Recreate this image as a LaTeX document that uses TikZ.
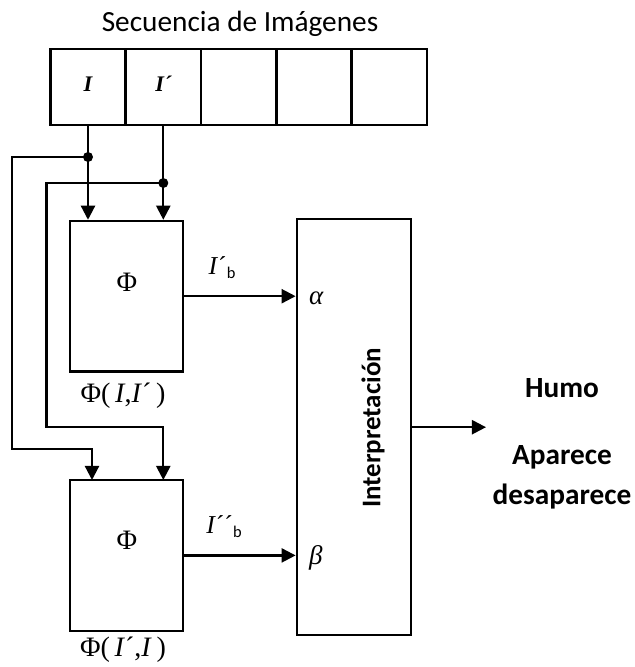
\documentclass[tikz,border=0pt]{standalone}
\usepackage{fontspec}
\setmainfont{Liberation Serif}
\newfontfamily\calibri{Carlito}
\usetikzlibrary{arrows.meta,positioning}
\tikzset{
  cell/.style={draw,line width=1.9pt,minimum width=2.25cm,minimum height=2.28cm,inner sep=0pt,text depth=0.5em,font=\fontsize{19}{19}\selectfont\bfseries\itshape},
  phibox/.style={draw,line width=1.9pt,minimum width=3.39cm,minimum height=4.52cm,inner sep=0pt},
  interp/.style={draw,line width=1.9pt,minimum width=3.43cm,minimum height=12.47cm,inner sep=0pt},
  wire/.style={line width=1.9pt},
  arr/.style={wire,-{Triangle[length=12pt,width=12pt]}},
  sym/.style={font=\fontsize{24}{24}\selectfont},
  res/.style={font=\calibri\bfseries\fontsize{25}{25}\selectfont},
}
\newcommand{\smallb}{\raisebox{-0.35ex}{\calibri\fontsize{14}{14}\selectfont b}}

\begin{document}
\begin{tikzpicture}[x=0.03cm,y=-0.03cm]
  \useasboundingbox (0,0) rectangle (634,667);
  \node[font=\calibri\fontsize{25}{25}\selectfont,anchor=base] (title) at (240,31) {Secuencia de Imágenes};
  % image sequence
  \node[cell] (c1) at (88,87) {I};
  \node[cell] (c2) at (163.3,87) {I´};
  \node[cell] (c3) at (238.6,87) {};
  \node[cell] (c4) at (313.9,87) {};
  \node[cell] (c5) at (389.2,87) {};
  % blocks
  \node[phibox] (b1) at (126.5,296.2) {};
  \node[phibox] (b2) at (126.5,555.4) {};
  \node[interp] (ip) at (353.9,427.2) {};
  \node[sym] (p1) at (127,282) {Φ};
  \node[sym] (p2) at (127,540) {Φ};
  \node[sym] (l1) at (123,396) {Φ(\,\textit{I},\textit{I}´\,)};
  \node[sym] (l2) at (123,650) {Φ(\,\textit{I}´,\textit{I}\,)};
  \node[font=\calibri\bfseries\fontsize{23}{23}\selectfont,rotate=90] (it) at (373,428) {Interpretación};
  \node[font=\fontsize{23}{23}\selectfont\itshape,anchor=west] (al) at (305,298) {α};
  \node[font=\fontsize{23}{23}\selectfont\itshape,anchor=west] (be) at (305,558) {β};
  \node[font=\fontsize{22}{22}\selectfont] (o1) at (222,268) {\textit{I}´\smallb};
  \node[font=\fontsize{22}{22}\selectfont] (o2) at (224,527) {\textit{I}´´\smallb};
  \node[res] (humo) at (562,388) {Humo};
  \node[res] (apa) at (562,457) {Aparece};
  \node[res] (des) at (562,497) {desaparece};
  % branch points
  \coordinate (d1) at (88,157);
  \coordinate (d2) at (163.3,183);
  \coordinate (in1) at (92,480);
  \coordinate (in2) at (163.3,480);
  \coordinate (out) at (486,427.2);
  \draw[arr] (c1.south) -- (c1.south |- b1.north);
  \draw[arr] (c2.south) -- (c2.south |- b1.north);
  \fill (d1) circle (5);
  \fill (d2) circle (5);
  \draw[arr] (d1) -- (12,157) -- (12,449) -- (92,449) -- (in1);
  \draw[arr] (d2) -- (46.5,183) -- (46.5,426.7) -- (163.3,426.7) -- (in2);
  \draw[arr] (b1.east) -- (b1.east -| ip.west);
  \draw[arr] (b2.east) -- (b2.east -| ip.west);
  \draw[arr] (ip.east) -- (out);
\end{tikzpicture}
\end{document}
